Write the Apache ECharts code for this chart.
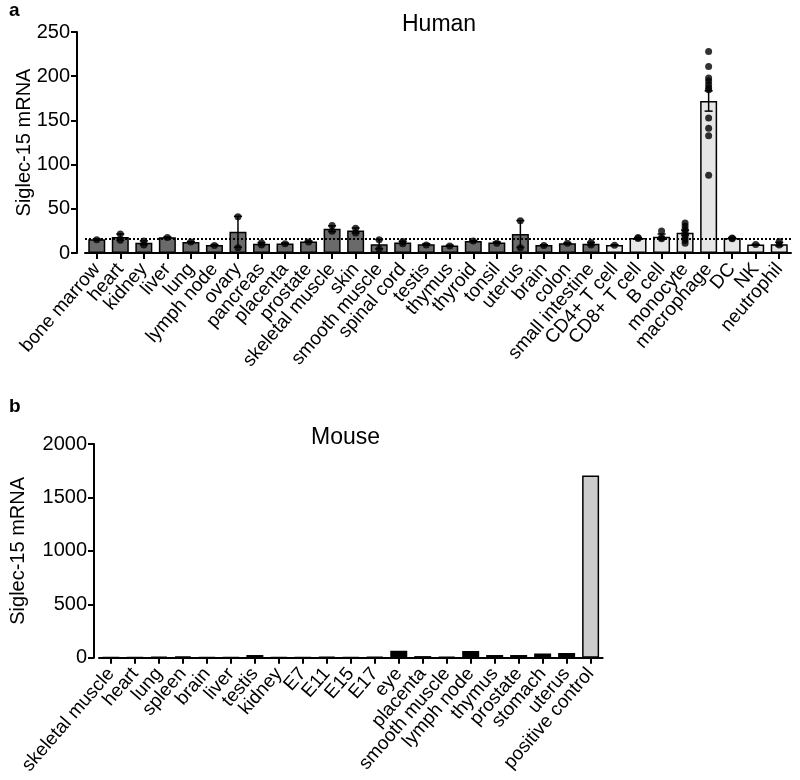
<!DOCTYPE html>
<html><head><meta charset="utf-8">
<script src="https://cdn.jsdelivr.net/npm/echarts@6/dist/echarts.min.js"></script>
<style>html,body{margin:0;padding:0;background:#fff}#c{width:800px;height:780px}</style>
</head><body><div id="c"></div>
<script>
// ---------- Human (panel a) ----------
const humanCategories = ['bone marrow','heart','kidney','liver','lung','lymph node','ovary','pancreas','placenta','prostate','skeletal muscle','skin','smooth muscle','spinal cord','testis','thymus','thyroid','tonsil','uterus','brain','colon','small intestine','CD4+ T cell','CD8+ T cell','B cell','monocyte','macrophage','DC','NK','neutrophil'];
const humanCellCategories = ['CD4+ T cell','CD8+ T cell','B cell','monocyte','macrophage','DC','NK','neutrophil'];
const humanMeans = [15.5, 18, 11.5, 17.8, 12.5, 9, 24, 10.5, 10.8, 13, 27.5, 25.5, 10, 12, 10, 8.5, 13.5, 12, 21.5, 9, 11, 10.5, 9, 17, 18.5, 23, 172, 17, 9.5, 10];
const humanSEM = [0.5, 3.5, 2.2, 0.3, 0.5, 0.5, 17.5, 1.2, 0.5, 0.5, 3.2, 2.8, 5.2, 1.3, 0.5, 0.3, 0.4, 0.5, 15.2, 0.3, 0.4, 1.5, 0.3, 0.5, 3, 2.8, 11.5, 0.5, 0.3, 2];
const humanPoints = [
  [15], [21.5, 14.5], [13.5, 9], [17.5], [12.5], [8.5], [41, 6], [11.5, 9], [10.5], [12.5],
  [31, 24.5], [28, 22.5], [15, 4.5], [13, 10.5], [9], [8], [13.5], [11], [36.5, 6], [8.5],
  [11], [12, 9], [8.8], [17.5, 16.5], [25, 17.5, 16],
  [34, 30.5, 27, 23.5, 20, 17, 14, 11],
  [228, 211, 198, 194.5, 190.7, 187, 184.6, 152.6, 141, 132.7, 88],
  [17, 16], [9.5], [13, 9]
];
const humanThreshold = 16.5;
const humanYTicks = [0, 50, 100, 150, 200, 250];

// ---------- Mouse (panel b) ----------
const mouseCategories = ['skeletal muscle','heart','lung','spleen','brain','liver','testis','kidney','E7','E11','E15','E17','eye','placenta','smooth muscle','lymph node','thymus','prostate','stomach','uterus','positive control'];
const mouseValues = [3, 5, 10, 12, 5, 5, 25, 5, 4, 10, 5, 8, 65, 15, 8, 63, 25, 25, 40, 45, 1705];
const mouseControlCategories = ['positive control'];
const mouseYTicks = [0, 500, 1000, 1500, 2000];

const FONT = 'Liberation Sans, Arial, Helvetica, sans-serif';
const chart = echarts.init(document.getElementById('c'), null, {renderer: 'canvas'});

const axisLineStyle = {show: true, lineStyle: {color: '#000', width: 2}};
const tickStyle = {show: true, length: 6, lineStyle: {color: '#000', width: 2}};

function xAxisCfg(gridIndex, cats) {
  return {
    type: 'category', gridIndex, data: cats,
    axisLine: axisLineStyle,
    axisTick: Object.assign({alignWithLabel: true}, tickStyle),
    axisLabel: {interval: 0, rotate: 49, fontSize: 19, color: '#000', fontFamily: FONT, margin: 13},
    splitLine: {show: false}
  };
}
function yAxisCfg(gridIndex, ticks, offset, nameGap) {
  return {
    type: 'value', gridIndex, min: ticks[0], max: ticks[ticks.length - 1],
    interval: ticks[1] - ticks[0], offset,
    name: 'Siglec-15 mRNA', nameLocation: 'middle', nameGap, nameMoveOverlap: false,
    nameTextStyle: {fontSize: 20, color: '#000', fontFamily: FONT},
    axisLine: axisLineStyle, axisTick: tickStyle,
    axisLabel: {fontSize: 20, color: '#000', fontFamily: FONT, margin: 7, formatter: v => String(v)},
    splitLine: {show: false}
  };
}

const humanBarData = humanMeans.map((v, i) => ({
  value: v,
  itemStyle: {color: humanCellCategories.includes(humanCategories[i]) ? '#e6e6e6' : '#6a6a6a'}
}));
const humanErrData = humanMeans.map((v, i) => [i, v - humanSEM[i], v + humanSEM[i]]);
const humanScatter = [];
humanPoints.forEach((pts, i) => pts.forEach(p => humanScatter.push([i, p])));

const mouseBarData = mouseValues.map((v, i) => ({
  value: v,
  itemStyle: {color: mouseControlCategories.includes(mouseCategories[i]) ? '#cccccc' : '#000'}
}));

chart.setOption({
  animation: false,
  backgroundColor: '#fff',
  title: [
    {text: 'a', left: 4, top: -4, textStyle: {fontSize: 19, fontWeight: 'bold', color: '#000', fontFamily: FONT}},
    {text: 'Human', left: 397, top: 8, textStyle: {fontSize: 23, fontWeight: 'normal', color: '#000', fontFamily: FONT}},
    {text: 'b', left: 4, top: 392, textStyle: {fontSize: 19, fontWeight: 'bold', color: '#000', fontFamily: FONT}},
    {text: 'Mouse', left: 306, top: 421, textStyle: {fontSize: 23, fontWeight: 'normal', color: '#000', fontFamily: FONT}}
  ],
  grid: [
    {left: 85, top: 32, width: 706, height: 221, containLabel: false},
    {left: 85.4, top: 444, width: 517.2, height: 213.7, containLabel: false}
  ],
  xAxis: [xAxisCfg(0, humanCategories), xAxisCfg(1, mouseCategories)],
  yAxis: [yAxisCfg(0, humanYTicks, 8, 43), yAxisCfg(1, mouseYTicks, 5, 66)],
  series: [
    {
      type: 'bar', xAxisIndex: 0, yAxisIndex: 0, data: humanBarData, barWidth: 17,
      itemStyle: {borderColor: '#000', borderWidth: 1.5},
      markLine: {
        silent: true, symbol: 'none', label: {show: false},
        lineStyle: {type: 'dotted', color: '#000', width: 2},
        data: [{yAxis: humanThreshold}]
      },
      z: 2
    },
    {
      type: 'custom', xAxisIndex: 0, yAxisIndex: 0, data: humanErrData, z: 3,
      renderItem: function (params, api) {
        const x = api.coord([api.value(0), 0])[0];
        const lo = api.coord([api.value(0), api.value(1)])[1];
        const hi = api.coord([api.value(0), api.value(2)])[1];
        const w = 4;
        const st = {stroke: '#000', lineWidth: 1.5};
        return {type: 'group', children: [
          {type: 'line', shape: {x1: x, y1: lo, x2: x, y2: hi}, style: st},
          {type: 'line', shape: {x1: x - w, y1: hi, x2: x + w, y2: hi}, style: st},
          {type: 'line', shape: {x1: x - w, y1: lo, x2: x + w, y2: lo}, style: st}
        ]};
      }
    },
    {
      type: 'scatter', xAxisIndex: 0, yAxisIndex: 0, data: humanScatter,
      symbol: 'circle', symbolSize: 7, itemStyle: {color: '#000'}, z: 4
    },
    {
      type: 'bar', xAxisIndex: 1, yAxisIndex: 1, data: mouseBarData, barWidth: 17,
      itemStyle: {borderColor: '#000', borderWidth: 1.5}
    }
  ]
});
</script>
</body></html>
